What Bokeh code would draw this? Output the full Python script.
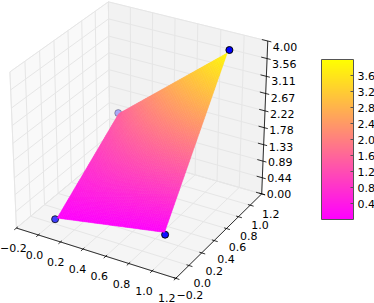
import numpy as np
from bokeh.plotting import figure
from bokeh.models import Range1d, ColorBar, LinearColorMapper, FixedTicker
from bokeh.core.properties import value
from bokeh.embed import file_html
from bokeh.resources import INLINE

# data
pt_x = [-0.012, 0.836, 0.002, 1.005]
pt_y = [0.058, 0.287, 1.0, 0.95]
pt_z = [0.0, 0.0, 1.48, 3.95]
x_ticks = [-0.2, 0.0, 0.2, 0.4, 0.6, 0.8, 1.0, 1.2]
y_ticks = [-0.2, 0.0, 0.2, 0.4, 0.6, 0.8, 1.0, 1.2]
z_ticks = [0.00, 0.44, 0.89, 1.33, 1.78, 2.22, 2.67, 3.11, 3.56, 4.00]
x_labels = ["\u22120.2", "0.0", "0.2", "0.4", "0.6", "0.8", "1.0", "1.2"]
y_labels = ["\u22120.2", "0.0", "0.2", "0.4", "0.6", "0.8", "1.0", "1.2"]
z_labels = ["0.00", "0.44", "0.89", "1.33", "1.78", "2.22", "2.67", "3.11", "3.56", "4.00"]
cb_ticks = [0.4, 0.8, 1.2, 1.6, 2.0, 2.4, 2.8, 3.2, 3.6]
cb_labels = {0.4: "0.4", 0.8: "0.8", 1.2: "1.2", 1.6: "1.6", 2.0: "2.0", 2.4: "2.4", 2.8: "2.8", 3.2: "3.2", 3.6: "3.6"}
cb_low, cb_high = 0.0, 4.0
XL, YL, ZL = (-0.2, 1.2), (-0.2, 1.2), (0.0, 4.0)

W, H = 374, 303
el, az, dist = np.radians(30), np.radians(-60), 10.0
R = np.array([.5, .5, .5])
n = np.array([np.cos(el)*np.cos(az), np.cos(el)*np.sin(az), np.sin(el)])
E = R + dist*n
u = np.cross([0, 0, 1], n); u /= np.linalg.norm(u)
v = np.cross(n, u)

def raw(x, y, z):
    p = np.stack([(np.asarray(x, float)-XL[0])/(XL[1]-XL[0]),
                  (np.asarray(y, float)-YL[0])/(YL[1]-YL[0]),
                  (np.asarray(z, float)-ZL[0])/(ZL[1]-ZL[0])], -1) - E
    zv = p @ n
    return (p @ u)/-zv, (p @ v)/-zv, zv

# screen calibration of the box corners
cx = [XL[0], XL[1], XL[1], XL[1], XL[0], XL[0]]
cy = [YL[0], YL[0], YL[1], YL[1], YL[0], YL[1]]
cz = [ZL[0], ZL[0], ZL[0], ZL[1], ZL[1], ZL[1]]
sxp = [16, 175, 261, 268, 10, 107]
syp = [228, 278, 193, 41, 70, 2]
rx, ry, _ = raw(cx, cy, cz)
kx = np.polyfit(rx, sxp, 1)
ky = np.polyfit(ry, syp, 1)

def proj(x, y, z):
    a, b, _ = raw(x, y, z)
    return np.polyval(kx, a), np.polyval(ky, b)

p = figure(width=W, height=H, x_range=Range1d(0, W), y_range=Range1d(H, 0),
           output_backend="svg", toolbar_location=None, min_border=0,
           outline_line_color=None)
p.axis.visible = False
p.grid.visible = False

def pane(xs, ys, zs, col):
    a, b = proj(xs, ys, zs)
    p.patch(list(a), list(b), fill_color=col, line_color="#eeeeee", line_width=1)

pane([XL[0], XL[0], XL[0], XL[0]], [YL[0], YL[1], YL[1], YL[0]], [ZL[0], ZL[0], ZL[1], ZL[1]], "#f9f9f9")
pane([XL[0], XL[1], XL[1], XL[0]], [YL[1], YL[1], YL[1], YL[1]], [ZL[0], ZL[0], ZL[1], ZL[1]], "#f2f2f2")
pane([XL[0], XL[1], XL[1], XL[0]], [YL[0], YL[0], YL[1], YL[1]], [ZL[0], ZL[0], ZL[0], ZL[0]], "#f5f5f5")

# grid
gx, gy = [], []
for t in x_ticks:
    a, b = proj([t, t, t], [YL[0], YL[1], YL[1]], [ZL[0], ZL[0], ZL[1]])
    gx.append(list(a)); gy.append(list(b))
for t in y_ticks:
    a, b = proj([XL[1], XL[0], XL[0]], [t, t, t], [ZL[0], ZL[0], ZL[1]])
    gx.append(list(a)); gy.append(list(b))
for t in z_ticks:
    a, b = proj([XL[0], XL[0], XL[1]], [YL[0], YL[1], YL[1]], [t, t, t])
    gx.append(list(a)); gy.append(list(b))
p.multi_line(gx, gy, line_color="#e6e6e6", line_width=1)

# axis lines
ax_x, ax_y = proj([XL[0], XL[1], XL[1], XL[1]], [YL[0], YL[0], YL[1], YL[1]], [ZL[0], ZL[0], ZL[0], ZL[1]])
p.line(list(ax_x), list(ax_y), line_color="black", line_width=0.8)

# ticks
tx, ty = [], []
for t in x_ticks:
    a, b = proj([t, t], [YL[0]-0.03, YL[0]+0.02], [ZL[0], ZL[0]])
    tx.append(list(a)); ty.append(list(b))
for t in y_ticks:
    a, b = proj([XL[1]-0.02, XL[1]+0.03], [t, t], [ZL[0], ZL[0]])
    tx.append(list(a)); ty.append(list(b))
for t in z_ticks:
    a, b = proj([XL[1]-0.05, XL[1]+0.03], [YL[1], YL[1]], [t, t])
    tx.append(list(a)); ty.append(list(b))
p.multi_line(tx, ty, line_color="black", line_width=0.8)

# labels
tkw = dict(text_font=value("DejaVu Sans"), text_font_size="11px", text_color="black", text_baseline="middle")
fx = (np.array(x_ticks)-XL[0])/(XL[1]-XL[0])
a, b = proj(x_ticks, [YL[0]]*len(x_ticks), [ZL[0]]*len(x_ticks))
p.text(list(a-3-6*fx), list(b+20), text=x_labels, text_align="center", **tkw)
fy = (np.array(y_ticks)-YL[0])/(YL[1]-YL[0])
a, b = proj([XL[1]]*len(y_ticks), y_ticks, [ZL[0]]*len(y_ticks))
p.text(list(a+14-5*fy), list(b+17+3*fy), text=y_labels, text_align="center", **tkw)
a, b = proj([XL[1]]*len(z_ticks), [YL[1]]*len(z_ticks), z_ticks)
p.text(list(a+5), list(b+6*np.array(z_ticks)/4), text=z_labels, text_align="left", **tkw)

# scatter with depth shading
mx, my = proj(pt_x, pt_y, pt_z)
_, _, d = raw(pt_x, pt_y, pt_z)
alph = 0.3 + 0.7*np.minimum(1.0, 1.3*(d-d.min())/(d.max()-d.min()))
p.scatter(list(mx), list(my), size=7, fill_color="#0000ff", line_color="#000000", fill_alpha=list(alph), line_alpha=list(alph), line_width=1)

# surface, slightly inset from the points as griddata leaves it
N = 50
g = np.linspace(0.012, 0.988, N+1)
def bil(v, s, t):
    return v[0]*(1-s)*(1-t)+v[1]*s*(1-t)+v[2]*(1-s)*t+v[3]*s*t
xs, ys, cols = [], [], []
for i in range(N):
    for j in range(N):
        qs = np.array([g[i], g[i+1], g[i+1], g[i]])
        qt = np.array([g[j], g[j], g[j+1], g[j+1]])
        qz = bil(pt_z, qs, qt)
        a, b = proj(bil(pt_x, qs, qt), bil(pt_y, qs, qt), qz)
        xs.append(list(a)); ys.append(list(b))
        t = (qz.mean()-cb_low)/(cb_high-cb_low)
        cols.append("#%02x%02x%02x" % (255, int(255*t), int(255*(1-t))))
p.patches(xs, ys, fill_color=cols, line_color=cols, line_width=0.6)

# colour bar
palette = ["#%02x%02x%02x" % (255, i, 255-i) for i in range(256)]
mapper = LinearColorMapper(palette=palette, low=cb_low, high=cb_high)
cb = ColorBar(color_mapper=mapper, ticker=FixedTicker(ticks=cb_ticks), location=(321, 84),
              width=32, height=160, padding=0, margin=0, background_fill_color=None,
              major_label_overrides=cb_labels,
              bar_line_color="#555555", bar_line_width=1,
              major_tick_line_color="#555555", major_tick_in=3, major_tick_out=0, minor_tick_line_color=None,
              major_label_text_font="DejaVu Sans", major_label_text_font_size="11px", major_label_text_color="black",
              label_standoff=4, border_line_color=None)
p.add_layout(cb, "center")

open("out.html", "w").write(file_html(p, INLINE))
